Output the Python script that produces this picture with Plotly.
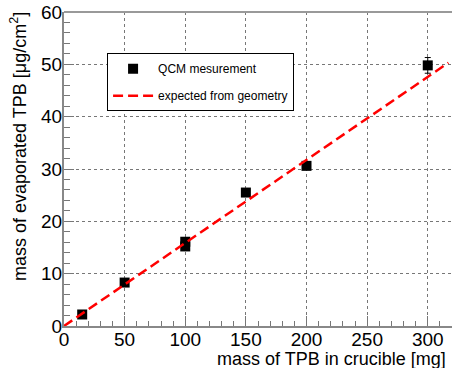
import plotly.graph_objects as go

# Data
mass_crucible = [15, 50, 100, 100, 150, 200, 300]
mass_evap = [2.2, 8.3, 15.2, 16.1, 25.5, 30.6, 49.8]
mass_err = [0.3, 0.3, 0.4, 0.4, 0.5, 0.5, 1.5]
line_x = [0, 317]
line_y = [0, 50.3]

FONT = "Liberation Sans, Arial, Helvetica, sans-serif"

fig = go.Figure()
fig.add_trace(go.Scatter(
    x=mass_crucible, y=mass_evap, mode="markers", name="QCM mesurement",
    marker=dict(symbol="square", size=10, color="black"),
    error_y=dict(type="data", array=mass_err, color="black", thickness=1, width=3),
    legendgroup="a",
))
fig.add_trace(go.Scatter(
    x=line_x, y=line_y, mode="lines", name="expected from geometry",
    line=dict(color="red", width=2.5, dash="10px,5px"),
    legendgroup="b",
))

axis_common = dict(
    showgrid=True, gridcolor="#777", griddash="dot", gridwidth=1,
    ticks="inside", ticklen=10, tickcolor="#777", tickwidth=1,
    showline=True, linecolor="#888", linewidth=2,
    zeroline=False,
    tickfont=dict(family=FONT, size=19, color="black"),
)

fig.update_xaxes(range=[0, 320], dtick=50, tick0=0,
                 minor=dict(ticks="inside", dtick=10, ticklen=5, tickcolor="#777", showgrid=False),
                 mirror=False, ticklabelstandoff=-5, **axis_common)
fig.update_yaxes(range=[0, 60], dtick=10, tick0=0,
                 minor=dict(ticks="inside", dtick=2, ticklen=6, tickcolor="#777", showgrid=False),
                 mirror=False, ticklabelstandoff=-4, **axis_common)

# top frame line
fig.add_shape(type="line", xref="paper", yref="paper", x0=0, x1=1, y0=1, y1=1,
              line=dict(color="#999", width=2))

fig.add_annotation(text="mass of TPB in crucible [mg]", xref="paper", yref="paper",
                   x=1, y=0, xanchor="right", yanchor="top", yshift=-21, xshift=-4,
                   showarrow=False, font=dict(family=FONT, size=18, color="black"))
fig.add_annotation(text="mass of evaporated TPB [μg/cm<sup>2</sup>]", xref="paper", yref="paper",
                   x=0, y=1, xanchor="right", yanchor="top", xshift=-32, yshift=2,
                   textangle=-90, showarrow=False,
                   font=dict(family=FONT, size=18, color="black"))

fig.update_layout(
    width=452, height=368,
    margin=dict(l=64, r=0, t=12, b=42),
    paper_bgcolor="white", plot_bgcolor="white",
    showlegend=True,
    legend=dict(x=0.111, y=0.869, xanchor="left", yanchor="top",
                bgcolor="white", bordercolor="black", borderwidth=1,
                font=dict(family=FONT, size=12, color="black"),
                itemwidth=40, tracegroupgap=8),
)

fig.write_html("out.html")
